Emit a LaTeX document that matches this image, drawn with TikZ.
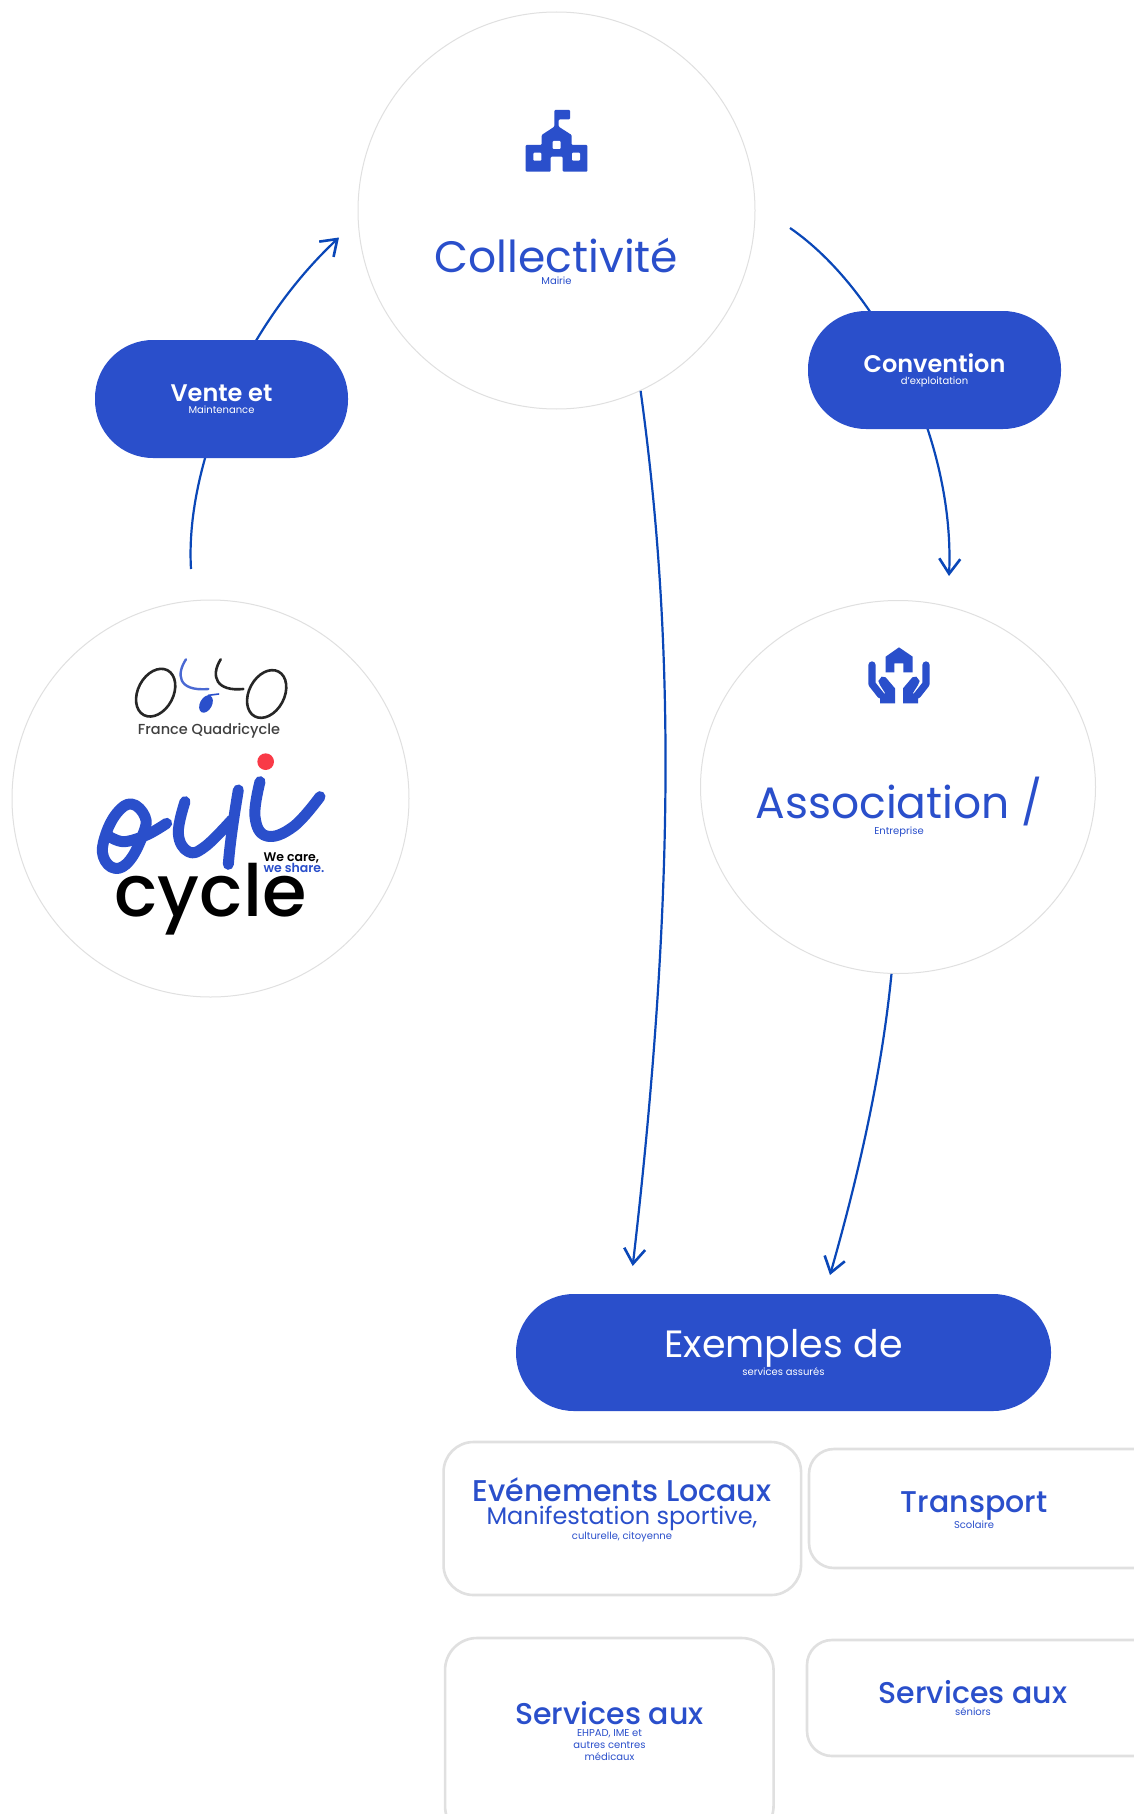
\documentclass[tikz,border=0pt]{standalone}
\usepackage{fontspec}
\setmainfont{Poppins}
\newfontfamily\pmed{Poppins Medium}
\newfontfamily\psemi{Poppins SemiBold}
\usetikzlibrary{arrows.meta,shapes.geometric}
\definecolor{ouiblue}{HTML}{2A4FCB}
\definecolor{flowblue}{HTML}{0A47B8}
\definecolor{rimgrey}{HTML}{E0E0E0}
\definecolor{ouired}{HTML}{F93A47}
\newcommand{\px}[1]{\fontsize{#1}{1.18\dimexpr #1pt\relax}\selectfont}
\tikzset{
	bubble/.style={circle,draw=rimgrey,line width=1pt,fill=white,minimum size=397pt,inner sep=0pt},
	pill/.style={rectangle,rounded corners=58pt,fill=ouiblue,text=white,align=center,inner sep=0pt},
	card/.style={rectangle,draw=rimgrey,line width=2.6pt,fill=white,inner sep=0pt},
	flow/.style={draw=flowblue,line width=2.2pt,-{Straight Barb[length=15pt,width=21pt,line width=2.6pt]}},
	title/.style={text=ouiblue,align=center,inner sep=0pt},
	logostroke/.style={draw=ouiblue,line width=11pt,line cap=round,line join=round},
	olloring/.style={draw=black!85,line width=2.6pt}
}
\begin{document}
\begin{tikzpicture}[x=1pt,y=-1pt]
\clip (0,0) rectangle (1134,1814);
\fill[white] (0,0) rectangle (1134,1814);
% connectors go first, the pills cover them
\node[bubble] (collect) at (556.5,210.5) {};
\node[bubble] (makers) at (210.5,798.5) {};
\node[ellipse,draw=rimgrey,line width=1pt,fill=white,minimum width=395pt,minimum height=373pt,inner sep=0pt] (assoc) at (898,787) {};
\coordinate (ventefrom) at (191,569);
\coordinate (ventetip) at (339,237.5);
\coordinate (convfrom) at (790,228);
\coordinate (convtip) at (949,576);
\coordinate (midtip) at (632.7,1266);
\coordinate (righttip) at (830,1275);
\draw[flow] (ventefrom) .. controls (185,470) and (240,330) .. (ventetip);
\draw[flow] (convfrom) .. controls (880,290) and (955,440) .. (convtip);
\draw[flow] (collect.-65) .. controls (675,640) and (675,900) .. (midtip);
\draw[flow] (assoc.268) .. controls (882,1070) and (860,1170) .. (righttip);
\node[pill,minimum width=253pt,minimum height=118pt] (vente) at (221.5,399) {\psemi\px{24}Vente et\\Maintenance};
\node[pill,minimum width=253pt,minimum height=118pt] (convention) at (934.5,370) {\psemi\px{24}Convention\\d’exploitation};
\node[pill,minimum width=535pt,minimum height=117pt] (exemples) at (783.5,1352.5) {\px{38}\setlength{\baselineskip}{44pt}Exemples de\\services assurés};
% titles
\node[title] (collecttext) at (556.5,261) {\px{44}\setlength{\baselineskip}{51pt}Collectivité\\Mairie};
\node[title] (assoctext) at (899,807) {\px{44}\setlength{\baselineskip}{51pt}Association /\\Entreprise};
% service cards
\node[card,rounded corners=30pt,minimum width=357.5pt,minimum height=153pt] (evenements) at (622.3,1518.5) {};
\node[card,rounded corners=25pt,minimum width=360pt,minimum height=119pt] (transport) at (989,1508.5) {};
\node[card,rounded corners=32pt,minimum width=328.5pt,minimum height=200pt] (ehpad) at (609.3,1738) {};
\node[card,rounded corners=25pt,minimum width=360pt,minimum height=116pt] (seniors) at (987,1698) {};
\node[title] (evtitle) at (622,1490) {\pmed\px{30}Evénements Locaux};
\node[title,below=0pt] (evsub) at (622,1506) {\px{24}\setlength{\baselineskip}{28.5pt}Manifestation sportive,\\culturelle, citoyenne};
\node[title] (transporttext) at (974,1510) {\pmed\px{30}\setlength{\baselineskip}{35pt}Transport\\Scolaire};
\node[title] (ehpadtext) at (609.5,1731) {\pmed\px{30}\setlength{\baselineskip}{35pt}Services aux\\EHPAD, IME et\\autres centres\\médicaux};
\node[title] (seniorstext) at (973,1698) {\pmed\px{30}\setlength{\baselineskip}{35pt}Services aux\\séniors};
% school
\begin{scope}[shift={(480,80)},x=1/3*1pt,y=-1/3*1pt]
\fill[ouiblue,rounded corners=1pt] (137,195) -- (185,195) -- (185,165) -- (223,140) -- (223,90) -- (270,90) -- (270,118) -- (236,118) -- (236,140) -- (275,165) -- (275,195) -- (322,195) -- (322,275) -- (248,275) -- (248,230) -- (212,230) -- (212,275) -- (137,275) -- cycle;
\fill[white,rounded corners=1pt] (218,183) rectangle (242,207);
\fill[white,rounded corners=1pt] (160,218) rectangle (184,242);
\fill[white,rounded corners=1pt] (276,218) rectangle (300,242);
\end{scope}
% house and hands
\begin{scope}[shift={(840,620)},x=1/3*1pt,y=-1/3*1pt]
\fill[ouiblue] (137,110) -- (177,82) -- (218,110) -- (218,157) -- (190,157) -- (190,130) -- (163,130) -- (163,157) -- (137,157) -- cycle;
\foreach \sgn in {1,-1}{
	\begin{scope}[shift={(177,0)},xscale=\sgn,shift={(-177,0)}]
	\draw[ouiblue,line width=7.3pt,line cap=round,line join=round] (96,135) -- (96,192) -- (122,225);
	\fill[ouiblue] (120,250) -- (120,232) -- (104,205) -- (137,222) -- (120,195) -- (115,183) -- (125,170) -- (137,172) -- (165,205) -- (165,250) -- cycle;
	\end{scope}
}
\end{scope}
% logos
\begin{scope}[shift={(60,620)},x=1/3*1pt,y=-1/3*1pt]
\draw[olloring,rotate around={-28:(287,218)}] (287,218) ellipse (53 and 76);
\draw[olloring,rotate around={-28:(620,222)}] (620,222) ellipse (53 and 76);
\draw[ouiblue!85,line width=2.4pt,line cap=round] (378,118) .. controls (350,160) and (350,215) .. (445,207);
\draw[black!85,line width=2.6pt,line cap=round] (482,118) .. controls (450,170) and (470,215) .. (550,207);
\fill[ouiblue,rotate around={-28:(438,252)}] (438,252) ellipse (18 and 28);
\draw[ouiblue,line width=1.6pt,line cap=round] (445,226) -- (476,222);
\fill[ouired] (617,425) circle (25);
\draw[logostroke] plot[smooth cycle,tension=0.7] coordinates {(215,552) (170,580) (135,650) (130,710) (165,745) (210,720) (250,640) (255,590)};
\draw[logostroke] plot[smooth,tension=0.6] coordinates {(140,645) (190,665) (260,645) (320,610)};
\draw[logostroke] plot[smooth,tension=0.7] coordinates {(375,545) (355,640) (385,695) (435,680) (515,600)};
\draw[logostroke] (535,510) .. controls (520,600) and (510,670) .. (505,733);
\draw[logostroke] plot[smooth,tension=0.7] coordinates {(600,485) (585,590) (620,648) (700,620) (780,530)};
\node[text=black!75,inner sep=0pt] (frq) at (447,332) {\pmed\px{14.5}France Quadricycle};
\node[anchor=base,text=black,inner sep=0pt] (cycletext) at (452,888) {\pmed\px{72}cycle};
\node[anchor=base west,text=black,inner sep=0pt] (wecare) at (610,725) {\psemi\px{12.5}We care,};
\node[anchor=base west,text=ouiblue,inner sep=0pt] (weshare) at (610,757) {\psemi\px{12.5}we share.};
\end{scope}
\end{tikzpicture}
\end{document}
